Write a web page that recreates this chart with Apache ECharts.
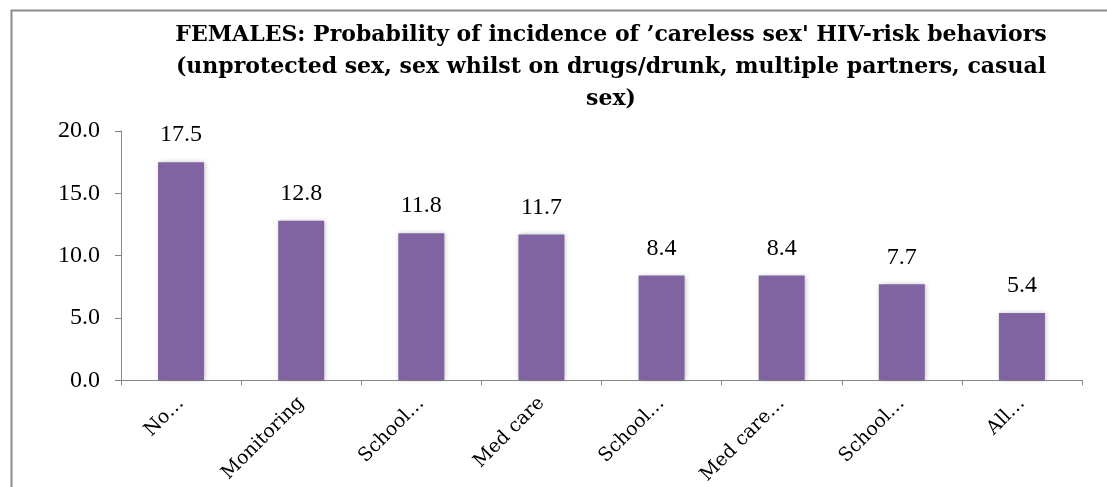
<!DOCTYPE html>
<html>
<head>
<meta charset="utf-8">
<script src="https://cdn.jsdelivr.net/npm/echarts@6/dist/echarts.min.js"></script>
<style>
  html, body { margin: 0; padding: 0; background: #ffffff; }
  #chart { width: 1107px; height: 487px; }
</style>
</head>
<body>
<div id="chart"></div>
<script>
// Intervention groups (labels as shown on the axis)
const categories = ['No…', 'Monitoring', 'School…', 'Med care', 'School…', 'Med care…', 'School…', 'All…'];
// Probability of incidence (%)
const probability = [17.5, 12.8, 11.8, 11.7, 8.4, 8.4, 7.7, 5.4];
// Value axis ticks
const yMin = 0, yMax = 20, yStep = 5;

const titleLines = [
  "FEMALES: Probability of incidence of \u2019careless sex' HIV-risk behaviors",
  "(unprotected sex, sex whilst on drugs/drunk, multiple partners, casual",
  "sex)"
];

const numFont = '"Liberation Serif", "DejaVu Serif", serif';
const textFont = '"DejaVu Serif", "Liberation Serif", serif';
const axisGray = '#868686';

const chart = echarts.init(document.getElementById('chart'), null, { renderer: 'canvas' });

chart.setOption({
  animation: false,
  backgroundColor: '#ffffff',
  title: {
    text: titleLines.join('\n'),
    left: 606,
    top: 14,
    textAlign: 'center',
    textStyle: {
      fontFamily: textFont,
      fontWeight: 'bold',
      fontSize: 22,
      lineHeight: 32,
      color: '#000000'
    }
  },
  graphic: [{
    type: 'rect',
    silent: true,
    z: -1,
    shape: { x: 11.5, y: 10.5, width: 1200, height: 600 },
    style: { fill: null, stroke: '#8a8a8a', lineWidth: 2 }
  }],
  grid: { left: 121, right: 25, top: 131, bottom: 105, containLabel: false },
  xAxis: {
    type: 'category',
    data: categories,
    axisLine: { lineStyle: { color: axisGray, width: 1 } },
    axisTick: { show: true, length: 5, lineStyle: { color: axisGray } },
    axisLabel: {
      rotate: 45,
      margin: 20,
      interval: 0,
      fontFamily: textFont,
      fontSize: 19,
      color: '#000000'
    },
    splitLine: { show: false }
  },
  yAxis: {
    type: 'value',
    min: yMin,
    max: yMax,
    interval: yStep,
    axisLine: { show: true, lineStyle: { color: axisGray, width: 1 } },
    axisTick: { show: true, length: 6, lineStyle: { color: axisGray } },
    axisLabel: {
      margin: 21,
      fontFamily: numFont,
      fontSize: 24,
      color: '#000000',
      formatter: v => v.toFixed(1)
    },
    splitLine: { show: false }
  },
  series: [{
    type: 'bar',
    data: probability,
    barWidth: 46,
    itemStyle: {
      color: '#8064A2',
      shadowBlur: 5,
      shadowColor: 'rgba(0,0,0,0.28)',
      shadowOffsetX: 1,
      shadowOffsetY: 0
    },
    label: {
      show: true,
      position: 'top',
      distance: 15,
      fontFamily: numFont,
      fontSize: 24,
      color: '#000000',
      formatter: p => p.value.toFixed(1)
    }
  }]
});
</script>
</body>
</html>
